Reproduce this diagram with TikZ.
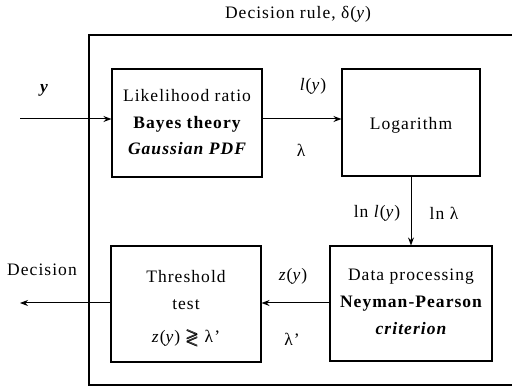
\documentclass[tikz,border=0pt]{standalone}
\usepackage{amsmath}
\usepackage{amssymb}
\usepackage{fontspec}
\setmainfont{Liberation Serif}[LetterSpace=6]
\usetikzlibrary{arrows.meta}

\tikzset{
  x=1pt, y=1pt,
  signal/.style={line width=1pt, -{Stealth[length=8pt, width=6pt]}},
  txt/.style={font=\fontsize{17.5}{20}\selectfont, inner sep=0pt, anchor=center},
}

\begin{document}
\begin{tikzpicture}
  \useasboundingbox (0,0) rectangle (512,386);

  % enclosing frame of the decision rule (right side runs off the page)
  \begin{scope}
    \clip (0,0) rectangle (512,386);
    \draw[line width=1.6pt] (89,1) rectangle (540,351);
  \end{scope}
  \node[txt] (title) at (298,372) {Decision rule, δ(\textit{y})};

  % processing blocks
  \node[draw, line width=1.1pt, minimum width=150pt, minimum height=108pt] (lr) at (187,263) {};
  \node[draw, line width=1.1pt, minimum width=138pt, minimum height=107pt] (log) at (411,263.5) {};
  \node[draw, line width=1.1pt, minimum width=150pt, minimum height=116pt] (thr) at (186,82) {};
  \node[draw, line width=1.1pt, minimum width=162pt, minimum height=115pt] (dp) at (411,82.5) {};

  % block texts
  \node[txt] (lr1) at (187,290) {Likelihood ratio};
  \node[txt] (lr2) at (187,262) {\bfseries Bayes theory};
  \node[txt] (lr3) at (187,237) {\bfseries\itshape Gaussian PDF};
  \node[txt] (log1) at (411,261) {Logarithm};
  \node[txt] (thr1) at (186,109) {Threshold};
  \node[txt] (thr2) at (186,81) {test};
  \node[txt] (thr3) at (186,48) {\textit{z}(\textit{y}) $\pmb{\gtrless}$ λ'};
  \node[txt] (dp1) at (411,109) {Data processing};
  \node[txt] (dp2) at (411,82) {\bfseries Neyman-Pearson};
  \node[txt] (dp3) at (411,57) {\bfseries\itshape criterion};

  % signal flow
  \coordinate (in) at (20,267);
  \coordinate (out) at (20,83);
  \draw[signal] (in) -- (lr.west |- in);
  \draw[signal] (lr.east |- in) -- (log.west |- in);
  \draw[signal] (log.south) -- (log.south |- dp.north);
  \draw[signal] (dp.west |- out) -- (thr.east |- out);
  \draw[signal] (thr.west |- out) -- (out);

  % signal labels
  \node[txt] (ly) at (44,296) {\bfseries\itshape y};
  \node[txt] (lyl) at (313,300) {\textit{l}(\textit{y})};
  \node[txt] (lam) at (301,236) {λ};
  \node[txt] (lnly) at (377,173) {ln \textit{l}(\textit{y})};
  \node[txt] (lnlam) at (444,173) {ln λ};
  \node[txt] (zy) at (293,110) {\textit{z}(\textit{y})};
  \node[txt] (lamp) at (292,47) {λ'};
  \node[txt] (dec) at (42,116) {Decision};
\end{tikzpicture}
\end{document}
